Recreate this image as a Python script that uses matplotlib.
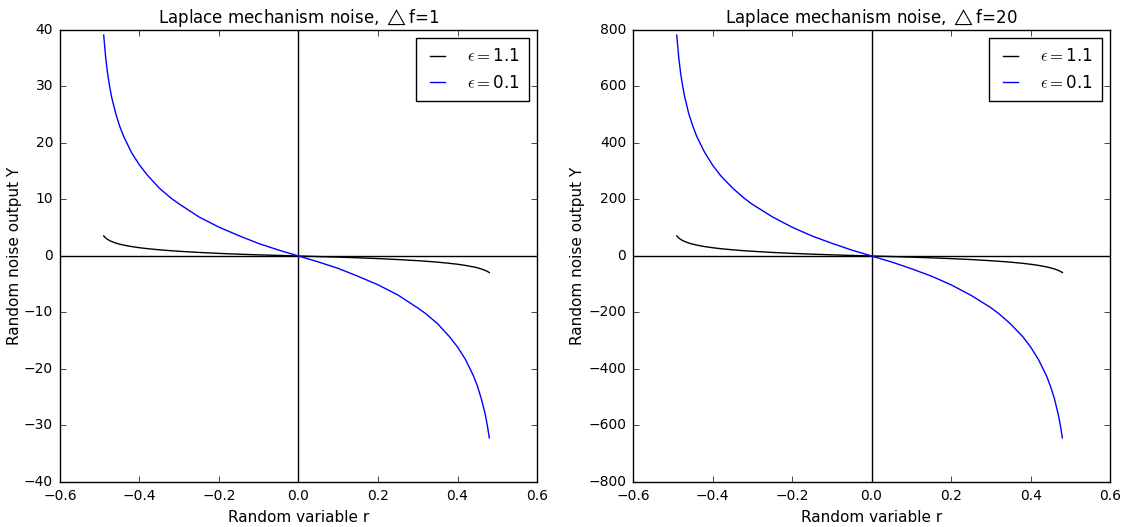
import matplotlib
matplotlib.use('Agg')
import matplotlib.pyplot as plt

plt.style.use('classic')

# random variable r
r = [-0.49, -0.485, -0.48, -0.475, -0.47, -0.46, -0.45, -0.44, -0.42, -0.40, -0.38,
     -0.35, -0.32, -0.30, -0.25, -0.20, -0.15, -0.10, -0.05, 0.0,
     0.05, 0.10, 0.15, 0.20, 0.25, 0.30, 0.32, 0.35, 0.38, 0.40,
     0.42, 0.44, 0.45, 0.46, 0.47, 0.475, 0.48]

# noise for eps=0.1, df=1
y_eps01_df1 = [39.1, 35.1, 32.2, 30.0, 28.1, 25.3, 23.0, 21.2, 18.3, 16.1, 14.3,
               12.0, 10.2, 9.2, 6.9, 5.1, 3.6, 2.2, 1.05, 0.0,
               -1.05, -2.2, -3.6, -5.1, -6.9, -9.2, -10.2, -12.0, -14.3, -16.1,
               -18.3, -21.2, -23.0, -25.3, -28.1, -30.0, -32.2]

# noise for eps=1.1, df=1
y_eps11_df1 = [3.56, 3.19, 2.93, 2.72, 2.56, 2.30, 2.09, 1.93, 1.67, 1.46, 1.30,
               1.09, 0.93, 0.83, 0.63, 0.46, 0.32, 0.20, 0.10, 0.0,
               -0.10, -0.20, -0.32, -0.46, -0.63, -0.83, -0.93, -1.09, -1.30, -1.46,
               -1.67, -1.93, -2.09, -2.30, -2.56, -2.72, -2.93]

# noise for eps=0.1, df=20
y_eps01_df20 = [782, 702, 644, 600, 563, 505, 461, 424, 367, 322, 285,
                241, 204, 183, 139, 102, 71, 45, 21, 0,
                -21, -45, -71, -102, -139, -183, -204, -241, -285, -322,
                -367, -424, -461, -505, -563, -600, -644]

# noise for eps=1.1, df=20
y_eps11_df20 = [71.1, 63.8, 58.5, 54.5, 51.2, 45.9, 41.9, 38.6, 33.3, 29.3, 25.9,
                21.9, 18.6, 16.7, 12.6, 9.3, 6.5, 4.1, 1.9, 0.0,
                -1.9, -4.1, -6.5, -9.3, -12.6, -16.7, -18.6, -21.9, -25.9, -29.3,
                -33.3, -38.6, -41.9, -45.9, -51.2, -54.5, -58.5]

fig = plt.figure(figsize=(11.23, 5.27), dpi=100, facecolor='white')
ax1 = fig.add_axes([0.0534, 0.0854, 0.4248, 0.8577])
ax2 = fig.add_axes([0.5637, 0.0854, 0.4248, 0.8577])

panels = [(ax1, y_eps11_df1, y_eps01_df1, '1', 40, -0.080),
          (ax2, y_eps11_df20, y_eps01_df20, '20', 800, -0.101)]

for ax, y11, y01, df, lim, lx in panels:
    ax.axhline(0, color='k', lw=1)
    ax.axvline(0, color='k', lw=1)
    ax.plot(r, y11, 'k-', lw=1, label=r'$\epsilon=$1.1')
    ax.plot(r, y01, 'b-', lw=1, label=r'$\epsilon=$0.1')
    ax.set_xlim(-0.6, 0.6)
    ax.set_ylim(-lim, lim)
    ax.set_title(r'Laplace mechanism noise, $\triangle$f=' + df, fontsize=12)
    ax.set_xlabel('Random variable r', fontsize=11)
    ax.set_ylabel('Random noise output Y', fontsize=11)
    ax.yaxis.set_label_coords(lx, 0.5)
    ax.tick_params(labelsize=10, pad=5)
    ax.legend(loc='upper right', fontsize=12, handlelength=1.5,
              handletextpad=1.0, borderpad=0.55)

fig.savefig('out.png', dpi=100, facecolor='white')
